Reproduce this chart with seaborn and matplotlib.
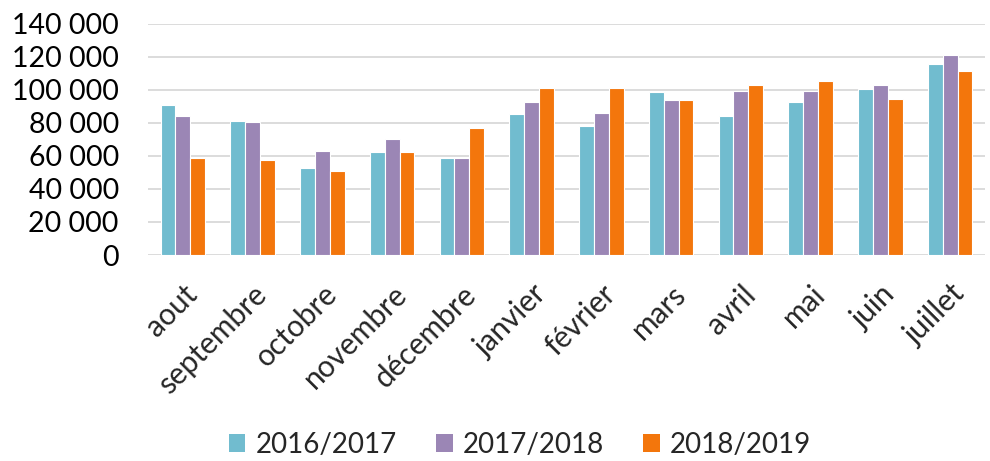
import matplotlib
matplotlib.use("Agg")
import matplotlib.pyplot as plt
import seaborn as sns
import pandas as pd
from matplotlib.ticker import FuncFormatter
from matplotlib.patches import Patch

months = ["aout", "septembre", "octobre", "novembre", "décembre", "janvier",
          "février", "mars", "avril", "mai", "juin", "juillet"]
seasons = ["2016/2017", "2017/2018", "2018/2019"]
v_2016_2017 = [90500, 80800, 52900, 62400, 58400, 85200, 78200, 98800, 84200, 92700, 100200, 115500]
v_2017_2018 = [84000, 80600, 63000, 70300, 58600, 92700, 85900, 93900, 99400, 99000, 103000, 121200]
v_2018_2019 = [58400, 57600, 50900, 62400, 76800, 101000, 100800, 93900, 103000, 105400, 94500, 111500]
colors = ["#71BCCF", "#9B86B5", "#F3760C"]
yticks = [0, 20000, 40000, 60000, 80000, 100000, 120000, 140000]

rows = []
for s, vals in zip(seasons, [v_2016_2017, v_2017_2018, v_2018_2019]):
    for m, v in zip(months, vals):
        rows.append({"mois": m, "saison": s, "valeur": v})
df = pd.DataFrame(rows)

sns.set_style("white")
plt.rcParams["font.family"] = ["Lato", "DejaVu Sans"]

fig = plt.figure(figsize=(9.9, 4.61), dpi=100)
ax = fig.add_axes([148/990, 1 - 255/461, (985-148)/990, (255-23.5)/461])

sns.barplot(data=df, x="mois", y="valeur", hue="saison", order=months,
            hue_order=seasons, palette=colors, width=0.64, ax=ax,
            edgecolor="white", linewidth=0.8, legend=False, saturation=1)

ax.set_ylim(0, 140000)
ax.set_xlim(-0.5, len(months) - 0.5)
ax.set_yticks(yticks)
ax.yaxis.set_major_formatter(FuncFormatter(lambda v, p: f"{int(v):,}".replace(",", " ")))
ax.grid(axis="y", color="#D9D9D9", linewidth=1.3)
ax.set_axisbelow(True)
for sp in ax.spines.values():
    sp.set_visible(False)
ax.set_xlabel("")
ax.set_ylabel("")
ax.tick_params(axis="y", labelsize=20.5, length=0, pad=21, colors="black")
ax.tick_params(axis="x", labelsize=21.5, length=0, pad=18)
for lab in ax.get_xticklabels():
    lab.set_rotation(45)
    lab.set_ha("right")
    lab.set_va("top")
    lab.set_rotation_mode("anchor")

handles = [Patch(facecolor=c, edgecolor="none") for c in colors]
fig.legend(handles, seasons, loc="center", bbox_to_anchor=(520/990, 1 - 445/461),
           ncol=3, frameon=False, fontsize=20, handlelength=0.6, handleheight=0.6,
           handletextpad=0.37, columnspacing=1.4)

fig.savefig("out.png", dpi=100)
